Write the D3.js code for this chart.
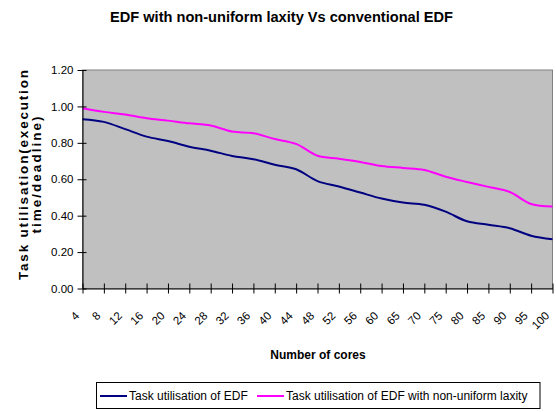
<!DOCTYPE html>
<html><head><meta charset="utf-8">
<script src="https://cdn.jsdelivr.net/npm/d3@7/dist/d3.min.js"></script>
<style>
body{margin:0;background:#fff;}
svg{display:block;font-family:"Liberation Sans",Arial,sans-serif;}
</style></head>
<body><svg id="c" width="556" height="412"></svg>
<script>
const categories = ["4","8","12","16","20","24","28","32","36","40","44","48","52","56","60","65","70","75","80","85","90","95","100"];
const edf = [0.93,0.915,0.875,0.834,0.81,0.779,0.757,0.728,0.71,0.68,0.655,0.59,0.56,0.527,0.494,0.472,0.46,0.422,0.369,0.35,0.331,0.29,0.27];
const edfLaxity = [0.99,0.97,0.955,0.935,0.922,0.907,0.895,0.862,0.853,0.821,0.794,0.729,0.713,0.695,0.673,0.662,0.651,0.614,0.585,0.558,0.53,0.464,0.45];
const yTicks = [0,0.2,0.4,0.6,0.8,1.0,1.2];
const seriesNames = ["Task utilisation of EDF","Task utilisation of EDF with non-uniform laxity"];
const colors = ["#000080","#FF00FF"];

const svg = d3.select("#c");
const L = 82.5, R = 552.5, T = 70, B = 288.5;
const x = d3.scalePoint().domain(categories).range([L, R]);
const y = d3.scaleLinear().domain([0, 1.2]).range([B, T]);

// title
svg.append("text").attr("x", 281.5).attr("y", 22).attr("text-anchor", "middle")
  .attr("font-size", 14.6).attr("font-weight", "bold").text("EDF with non-uniform laxity Vs conventional EDF");

// plot area
svg.append("rect").attr("x", L).attr("y", T).attr("width", R - L).attr("height", B - T)
  .attr("fill", "#C0C0C0").attr("stroke", "#808080").attr("stroke-width", 1);

// series
const line = d3.line().x((d, i) => x(categories[i])).y(d => y(d)).curve(d3.curveCatmullRom.alpha(0.5));
[edf, edfLaxity].forEach((s, k) => {
  svg.append("path").datum(s).attr("d", line).attr("fill", "none")
    .attr("stroke", colors[k]).attr("stroke-width", 2);
});

// y axis
const ya = svg.append("g").attr("transform", `translate(${L},0)`)
  .call(d3.axisLeft(y).tickValues(yTicks).tickFormat(d3.format(".2f")).tickSize(5).tickSizeOuter(0));
ya.select(".domain").attr("stroke", "#000");
ya.selectAll(".tick line").attr("x1", 4).attr("stroke", "#000");
ya.selectAll(".tick text").attr("x", -9).attr("font-size", 11.5).attr("fill", "#000")
  .attr("font-family", "Liberation Sans, Arial, sans-serif");

// x axis
const xa = svg.append("g").attr("transform", `translate(0,${B})`)
  .call(d3.axisBottom(x).tickSize(5).tickSizeOuter(0));
xa.select(".domain").attr("stroke", "#000");
xa.selectAll(".tick line").attr("y1", -5).attr("stroke", "#000");
xa.selectAll(".tick text").attr("font-size", 11.5).attr("fill", "#000")
  .attr("font-family", "Liberation Sans, Arial, sans-serif")
  .attr("text-anchor", "end").attr("y", 0).attr("dy", 0)
  .attr("transform", "translate(-3,28) rotate(-45)");

// axis titles
svg.append("text").attr("x", 318).attr("y", 359).attr("text-anchor", "middle")
  .attr("font-size", 12).attr("font-weight", "bold").text("Number of cores");
const yt = svg.append("g").attr("transform", `translate(28,175) rotate(-90)`);
yt.append("text").attr("x", 0).attr("y", 0).attr("text-anchor", "middle")
  .attr("font-size", 13.5).attr("font-weight", "bold")
  .attr("textLength", 210).attr("lengthAdjust", "spacing").text("Task utilisation(execution");
yt.append("text").attr("x", 0).attr("y", 13).attr("text-anchor", "middle")
  .attr("font-size", 13.5).attr("font-weight", "bold")
  .attr("textLength", 117).attr("lengthAdjust", "spacing").text("time/deadline)");

// legend
const lg = svg.append("g");
lg.append("rect").attr("x", 96.5).attr("y", 382.5).attr("width", 443.5).attr("height", 26)
  .attr("fill", "#fff").attr("stroke", "#000").attr("stroke-width", 1);
const legX = [100, 257];
seriesNames.forEach((n, k) => {
  lg.append("line").attr("x1", legX[k]).attr("x2", legX[k] + 27).attr("y1", 396).attr("y2", 396)
    .attr("stroke", colors[k]).attr("stroke-width", 2);
  lg.append("text").attr("x", legX[k] + 29).attr("y", 400).attr("font-size", 12).text(n);
});
</script></body></html>
